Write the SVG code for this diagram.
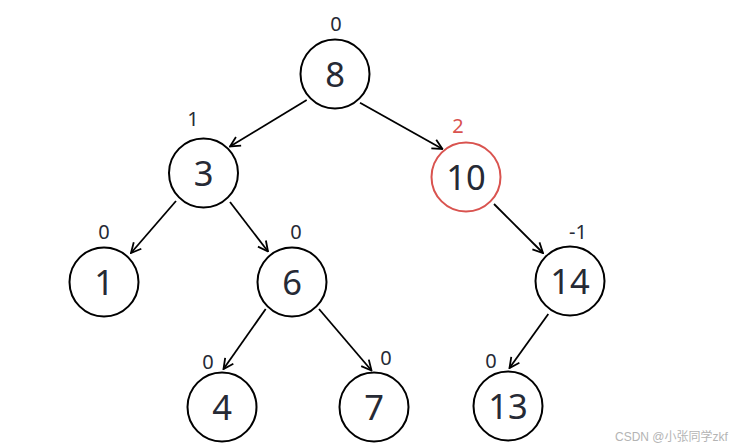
<svg xmlns="http://www.w3.org/2000/svg" width="744" height="448" viewBox="0 0 744 448">
<defs>
<style>
.node circle{fill:#fff;stroke:#000;stroke-width:2}
.node.red circle{stroke:#d9534f}
.val{font-family:"Noto Sans","Liberation Sans",sans-serif;font-size:34.5px;fill:#262a35;text-anchor:middle}
.bf{font-family:"Noto Sans","Liberation Sans",sans-serif;font-size:20px;fill:#262a35;text-anchor:middle}
.bf.red{fill:#d9534f}
.edges line{stroke:#000;stroke-width:1.8;marker-end:url(#arr)}
.wm{font-family:"Liberation Sans","Noto Sans CJK SC",sans-serif;font-size:12px;fill:#b4b4b4}
</style>
<marker id="arr" viewBox="0 0 12 12" refX="11" refY="6" markerWidth="12" markerHeight="12" markerUnits="userSpaceOnUse" orient="auto">
<path d="M1,1 L11,6 L1,11" fill="none" stroke="#000" stroke-width="1.8"/>
</marker>
</defs>
<rect width="744" height="448" fill="#fff"/>
<g class="edges">
<line x1="306.7" y1="100" x2="230" y2="146.5"/>
<line x1="360" y1="102.7" x2="442.5" y2="149"/>
<line x1="176" y1="201" x2="131" y2="253"/>
<line x1="230" y1="202" x2="268" y2="251.5"/>
<line x1="494" y1="204" x2="543" y2="253"/>
<line x1="265.7" y1="309" x2="223.5" y2="369"/>
<line x1="319" y1="309" x2="371.5" y2="370.5"/>
<line x1="548.3" y1="314" x2="509.5" y2="368"/>
</g>
<g id="n8" class="node"><circle cx="335" cy="74" r="34.5"/><text class="val" x="335" y="87">8</text><text class="bf" x="336" y="31">0</text></g>
<g id="n3" class="node"><circle cx="203.5" cy="173" r="34.5"/><text class="val" x="203.5" y="186">3</text><text class="bf" x="193" y="126">1</text></g>
<g id="n10" class="node red"><circle cx="466" cy="177" r="34.5"/><text class="val" x="466" y="190">10</text><text class="bf red" x="458" y="133">2</text></g>
<g id="n1" class="node"><circle cx="104" cy="282" r="34.5"/><text class="val" x="104" y="295">1</text><text class="bf" x="104" y="239">0</text></g>
<g id="n6" class="node"><circle cx="292" cy="282" r="34.5"/><text class="val" x="292" y="295">6</text><text class="bf" x="296" y="239">0</text></g>
<g id="n14" class="node"><circle cx="570" cy="281" r="34.5"/><text class="val" x="570" y="294">14</text><text class="bf" x="578" y="239">-1</text></g>
<g id="n4" class="node"><circle cx="222" cy="407" r="34.5"/><text class="val" x="222" y="420">4</text><text class="bf" x="208" y="369">0</text></g>
<g id="n7" class="node"><circle cx="374" cy="407" r="34.5"/><text class="val" x="374" y="420">7</text><text class="bf" x="386" y="365">0</text></g>
<g id="n13" class="node"><circle cx="508" cy="406" r="34.5"/><text class="val" x="508" y="419">13</text><text class="bf" x="491" y="368">0</text></g>
<text class="wm" x="615" y="441">CSDN @小张同学zkf</text>
</svg>
